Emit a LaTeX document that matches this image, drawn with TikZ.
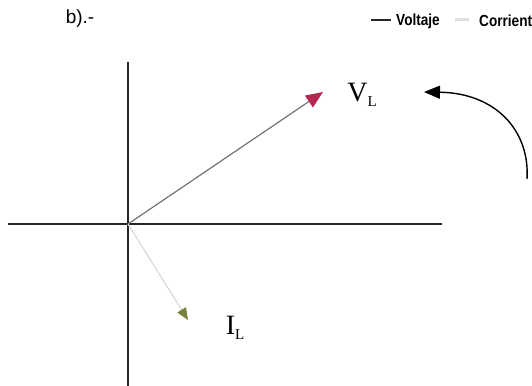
\documentclass[tikz,border=0pt]{standalone}
\usepackage{fontspec}
\setmainfont{Liberation Serif}
\newfontfamily\arialfont{Liberation Sans}
\usetikzlibrary{arrows.meta}
\definecolor{vcolor}{RGB}{180,40,80}
\definecolor{icolor}{RGB}{120,130,60}

\begin{document}
\begin{tikzpicture}[x=1pt,y=-1pt]
    \useasboundingbox (0,0) rectangle (532,385);

    % Origin and tips
    \coordinate (O) at (128,224);
    \coordinate (vtip) at (323,92);
    \coordinate (itip) at (188,320);

    % Coordinate axes
    \coordinate (xl) at (8,224);
    \coordinate (xr) at (442,224);
    \coordinate (yt) at (128,62);
    \coordinate (yb) at (128,390);
    \draw[line width=1.3pt, black!85] (xl) -- (xr);
    \draw[line width=1.3pt, black!85] (yt) -- (yb);

    % Phasors
    \draw[line width=1.2pt, gray!90!black, -{Triangle[length=17pt,width=14pt,color=vcolor]}] (O) -- (vtip);
    \draw[line width=1.2pt, gray!30, -{Triangle[length=12pt,width=10pt,color=icolor]}] (O) -- (itip);

    % Labels
    \node (vlabel) at (362,95) {\fontsize{28}{30}\selectfont V\raisebox{-0.35ex}{\fontsize{15}{15}\selectfont L}};
    \node (ilabel) at (235,328) {\fontsize{28}{30}\selectfont I\raisebox{-0.35ex}{\fontsize{15}{15}\selectfont L}};
    \node (title) at (80,19) {\arialfont\fontsize{19}{20}\selectfont b).-};

    % Rotation arrow
    \coordinate (arcstart) at (527,179);
    \coordinate (arcend) at (424,92);
    \draw[line width=1.4pt, -{Triangle[length=16pt,width=13pt]}] (arcstart) .. controls (530,130) and (495,93) .. (arcend);

    % Legend
    \coordinate (la) at (371,20);
    \coordinate (lb) at (391,20);
    \coordinate (lc) at (455,20);
    \coordinate (ld) at (469,20);
    \draw[line width=1.3pt, black!85] (la) -- (lb);
    \node[anchor=west, inner sep=0pt] (voltaje) at (396,21) {\scalebox{0.85}[1]{\arialfont\bfseries\fontsize{16}{16}\selectfont Voltaje}};
    \draw[line width=3pt, gray!25] (lc) -- (ld);
    \node[anchor=west, inner sep=0pt] (corriente) at (479,21) {\scalebox{0.85}[1]{\arialfont\bfseries\fontsize{16}{16}\selectfont Corriente}};
\end{tikzpicture}
\end{document}
